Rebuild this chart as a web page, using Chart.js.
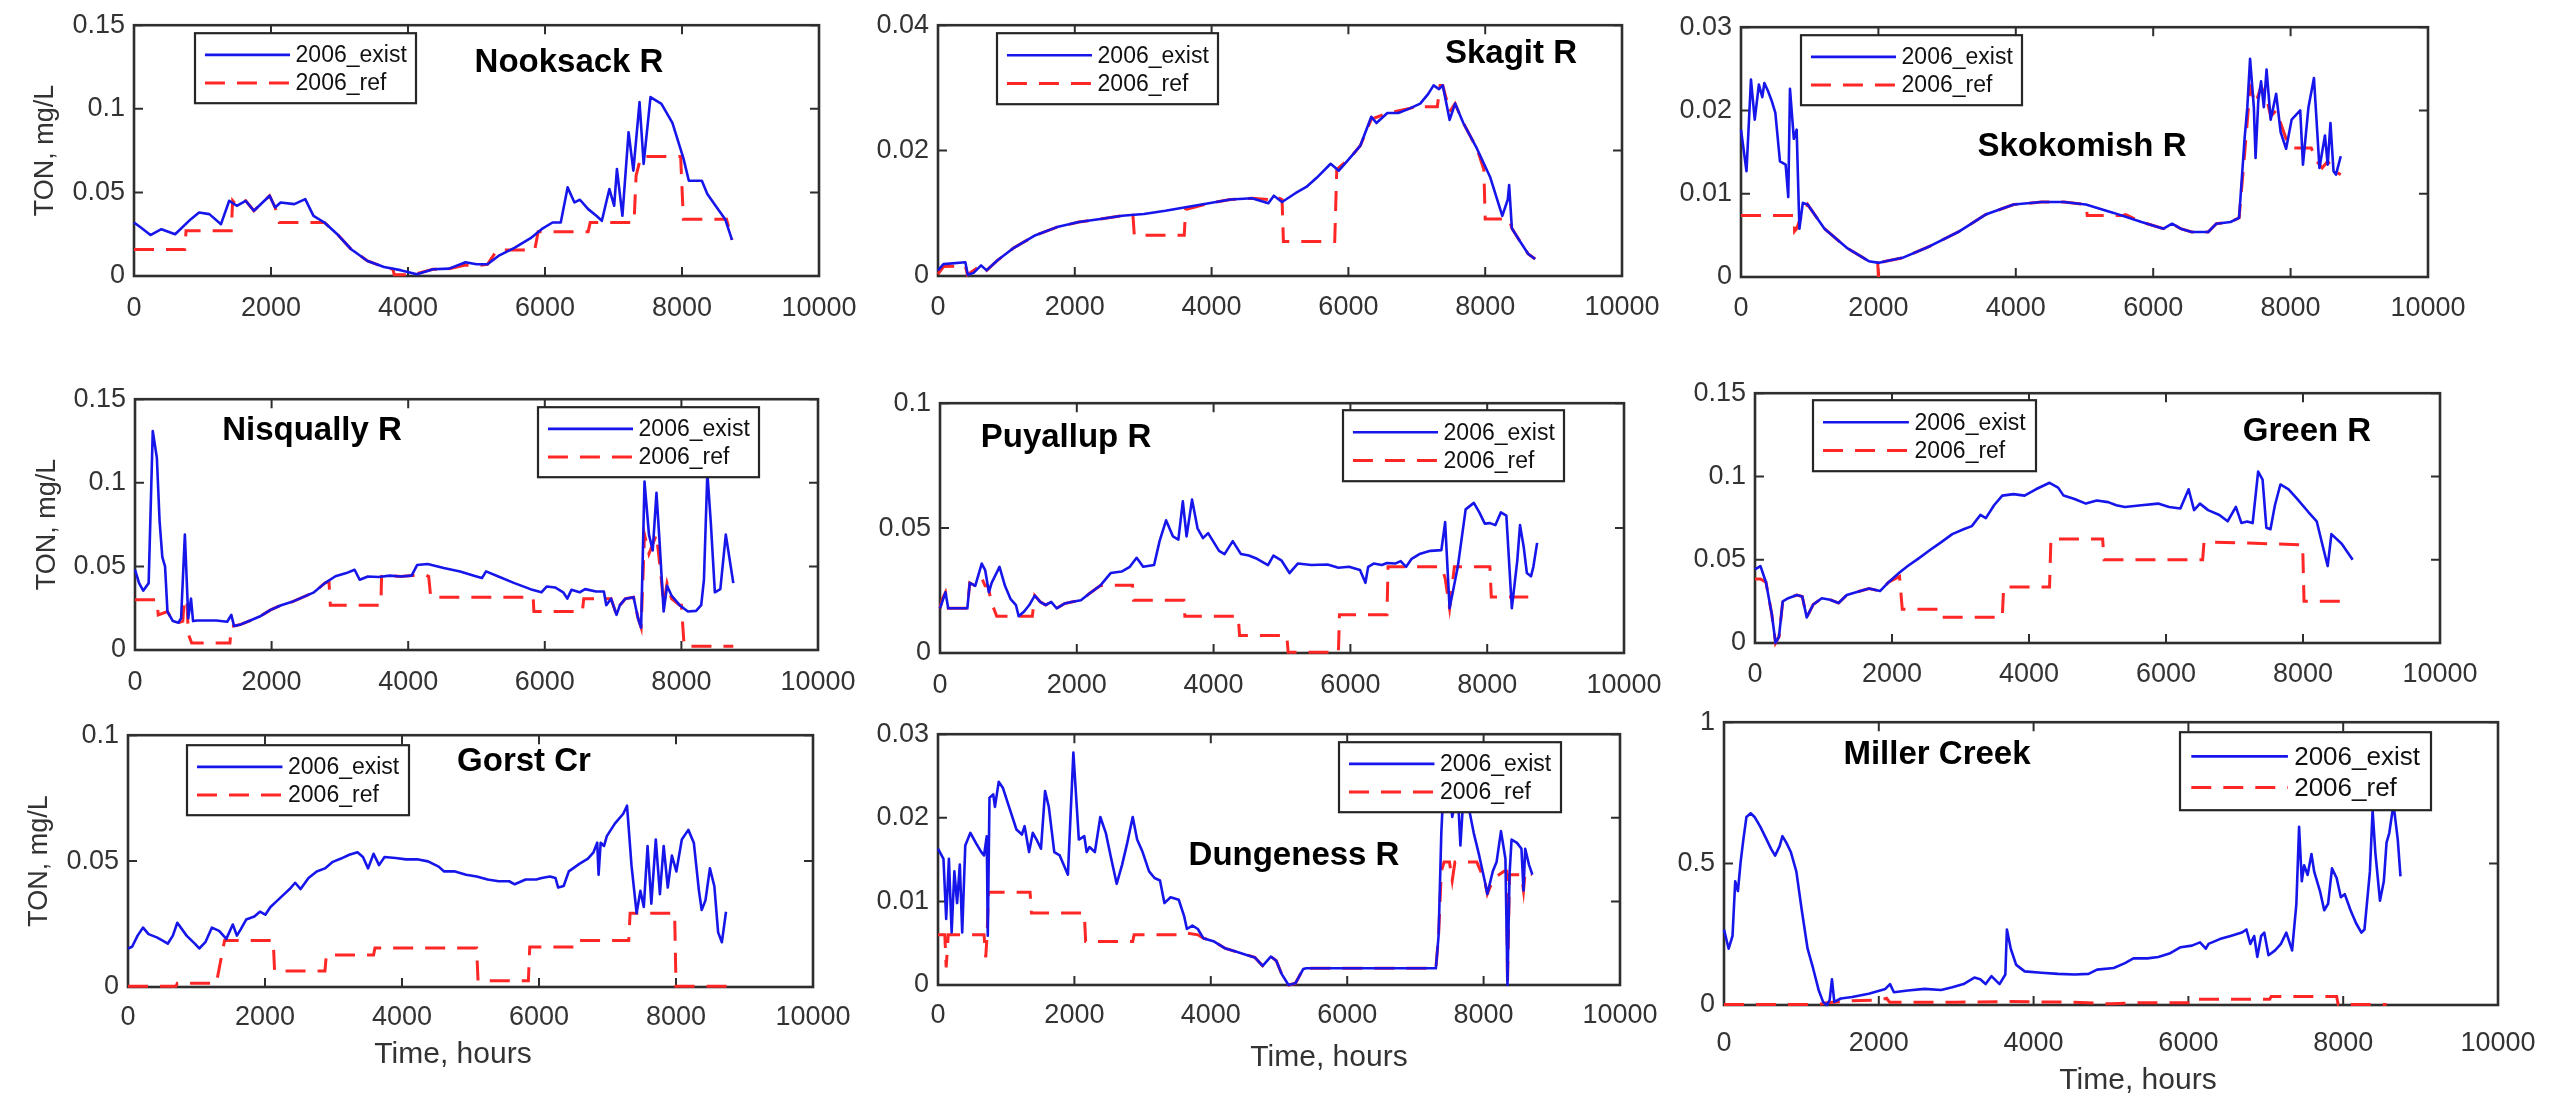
<!DOCTYPE html>
<html><head><meta charset="utf-8">
<script src="https://cdn.jsdelivr.net/npm/chart.js@4.4.1/dist/chart.umd.min.js"></script>
<style>
html,body{margin:0;padding:0;background:#fff;width:2552px;height:1101px;overflow:hidden;position:relative}
canvas{position:absolute}
</style></head><body>
<script>
// ---------- tick labels ----------
const xTicks = [0, 2000, 4000, 6000, 8000, 10000];
const yTicks015 = [0, 0.05, 0.1, 0.15];
const yTicks004 = [0, 0.02, 0.04];
const yTicks003 = [0, 0.01, 0.02, 0.03];
const yTicks010 = [0, 0.05, 0.1];
const yTicks1 = [0, 0.5, 1];
const seriesLabels = ['2006_exist', '2006_ref'];

// ---------- series values [hour, TON mg/L] ----------
const nooksackExist = [[0,.032],[100,.029],[240,.0245],[400,.028],[600,.025],[830,.034],[950,.038],[1100,.037],[1270,.031],[1390,.045],[1500,.042],[1630,.045],[1750,.039],[1980,.048],[2060,.041],[2140,.044],[2340,.043],[2500,.046],[2620,.036],[2780,.032],[2980,.0245],[3170,.016],[3410,.009],[3650,.0054],[3890,.0035],[4130,.001],[4365,.004],[4600,.0044],[4840,.0082],[5000,.007],[5160,.007],[5320,.012],[5560,.017],[5790,.0226],[5950,.028],[6110,.032],[6230,.032],[6330,.053],[6430,.044],[6510,.0456],[6630,.040],[6750,.036],[6830,.033],[6940,.052],[7010,.042],[7050,.064],[7130,.036],[7220,.086],[7290,.063],[7380,.104],[7440,.067],[7540,.107],[7700,.103],[7860,.0916],[8020,.0705],[8100,.057],[8290,.057],[8370,.049],[8490,.042],[8630,.034],[8730,.0216]];
const nooksackRef = [[0,.0158],[740,.0158],[760,.027],[1420,.027],[1440,.045],[1500,.042],[1630,.045],[1750,.039],[1980,.048],[2060,.041],[2120,.032],[2780,.032],[2980,.0245],[3170,.016],[3410,.009],[3650,.0054],[3780,.004],[3800,.0007],[4100,.0007],[4130,.0015],[4365,.004],[4600,.0044],[4840,.0065],[5000,.006],[5160,.007],[5300,.0155],[5850,.0155],[5900,.0265],[6630,.0265],[6660,.032],[7300,.032],[7330,.06],[7400,.0715],[7980,.0715],[8020,.034],[8650,.034],[8730,.0216]];

const skagitExist = [[0,.0009],[80,.0019],[400,.0022],[435,.0002],[520,.0005],[630,.0017],[710,.0009],[870,.0025],[1110,.0045],[1425,.0065],[1740,.0078],[2060,.0086],[2375,.0091],[2690,.0096],[3010,.0099],[3325,.0104],[3640,.011],[3960,.0116],[4275,.0122],[4590,.0124],[4830,.0116],[4910,.0128],[5030,.0118],[5225,.0132],[5385,.0142],[5540,.0157],[5740,.0179],[5860,.0168],[6020,.0188],[6175,.0208],[6335,.0254],[6410,.0244],[6570,.026],[6730,.026],[6890,.0267],[7050,.0275],[7165,.029],[7245,.0304],[7325,.0298],[7380,.0304],[7480,.0249],[7560,.0275],[7680,.0244],[7880,.0203],[8075,.0157],[8250,.0096],[8330,.0122],[8350,.0145],[8390,.0076],[8510,.0055],[8630,.0035],[8730,.0027]];
const skagitRef = [[0,.0003],[80,.0015],[400,.0016],[430,.0002],[630,.0017],[710,.0009],[870,.0025],[1110,.0045],[1425,.0065],[1740,.0078],[2060,.0086],[2375,.0091],[2690,.0096],[2850,.0097],[2870,.0065],[3600,.0065],[3620,.0106],[3960,.0116],[4275,.0122],[4590,.0124],[4830,.0122],[4910,.0128],[5030,.0122],[5050,.0055],[5800,.0055],[5830,.017],[6020,.0188],[6175,.0208],[6335,.025],[6570,.026],[6890,.0267],[7050,.0273],[7100,.027],[7300,.027],[7340,.0304],[7380,.0304],[7480,.0262],[7560,.0275],[7680,.0244],[7880,.0203],[7980,.017],[8000,.0091],[8350,.0091],[8390,.0076],[8510,.0055],[8630,.0035],[8730,.0027]];

const skokomishExist = [[0,.0177],[80,.0127],[145,.0237],[200,.0189],[260,.0231],[310,.0216],[340,.0233],[390,.0224],[445,.0212],[500,.0197],[567,.0139],[650,.0135],[688,.0096],[713,.0226],[769,.0166],[810,.0177],[850,.0058],[900,.0089],[970,.0087],[1215,.0058],[1540,.0035],[1860,.0019],[2010,.0017],[2105,.0019],[2350,.0023],[2750,.0037],[3160,.0054],[3560,.0075],[3970,.0087],[4370,.009],[4700,.009],[5020,.0087],[5425,.0077],[5830,.0066],[6150,.0058],[6275,.0064],[6400,.0058],[6560,.0054],[6800,.0054],[6920,.0064],[7125,.0066],[7250,.0071],[7330,.0166],[7370,.0204],[7410,.0262],[7465,.0204],[7490,.0143],[7530,.0212],[7570,.0235],[7610,.0204],[7650,.0249],[7710,.0189],[7790,.022],[7855,.0174],[7935,.0154],[8015,.0189],[8140,.020],[8180,.0135],[8260,.0204],[8340,.0239],[8420,.0131],[8500,.017],[8540,.0135],[8580,.0185],[8625,.0127],[8660,.0123],[8730,.0145]];
const skokomishRef = [[0,.0074],[770,.0074],[780,.0055],[810,.0058],[850,.0067],[970,.0087],[1215,.0058],[1540,.0035],[1860,.0019],[1990,.0017],[2000,0],[2010,.0017],[2105,.0019],[2350,.0023],[2750,.0037],[3160,.0054],[3560,.0075],[3970,.0087],[4370,.009],[4700,.009],[5020,.0087],[5040,.0074],[5560,.0074],[5600,.0075],[5830,.0066],[6150,.0058],[6275,.0064],[6400,.0058],[6560,.0054],[6800,.0054],[6920,.0064],[7125,.0066],[7250,.0071],[7330,.0147],[7410,.0228],[7490,.0208],[7570,.0229],[7650,.0215],[7710,.0193],[7790,.020],[7935,.0166],[8015,.0155],[8300,.0155],[8380,.0139],[8460,.0131],[8540,.0139],[8625,.0128],[8730,.0123]];

const nisquallyExist = [[0,.048],[60,.040],[120,.0355],[200,.040],[260,.131],[320,.115],[360,.077],[400,.0556],[440,.050],[475,.023],[555,.0173],[635,.0163],[675,.019],[730,.069],[780,.019],[820,.0307],[850,.0173],[910,.0176],[1190,.0176],[1350,.0169],[1410,.021],[1450,.0144],[1550,.0153],[1670,.0173],[1825,.020],[1985,.024],[2140,.0268],[2300,.0288],[2460,.0316],[2620,.0345],[2780,.040],[2935,.0441],[3095,.046],[3215,.048],[3290,.042],[3410,.044],[3570,.0437],[3730,.0445],[3890,.044],[4050,.0445],[4130,.0508],[4285,.0514],[4520,.049],[4760,.047],[5000,.044],[5080,.043],[5140,.047],[5320,.044],[5555,.040],[5790,.0364],[5950,.0345],[6030,.038],[6150,.0374],[6270,.0345],[6330,.0307],[6390,.036],[6510,.0345],[6590,.0364],[6750,.035],[6865,.035],[6900,.0268],[6970,.0307],[7050,.021],[7100,.0268],[7180,.0307],[7300,.0316],[7365,.019],[7410,.0134],[7460,.1007],[7525,.069],[7580,.0595],[7635,.094],[7680,.065],[7740,.023],[7790,.0384],[7855,.0326],[7975,.0268],[8095,.023],[8215,.0234],[8290,.0268],[8330,.042],[8380,.106],[8430,.0767],[8490,.0345],[8570,.0364],[8650,.069],[8730,.048],[8760,.040]];
const nisquallyRef = [[0,.030],[320,.030],[340,.021],[475,.023],[555,.0173],[635,.0163],[700,.0173],[720,.030],[760,.030],[780,.0096],[830,.0042],[1390,.0042],[1410,.0144],[1450,.0144],[1550,.0153],[1670,.0173],[1825,.020],[1985,.024],[2140,.0268],[2300,.0288],[2460,.0316],[2620,.0345],[2780,.040],[2840,.041],[2860,.0268],[3600,.0268],[3610,.044],[3730,.0445],[3890,.044],[4050,.0445],[4250,.045],[4300,.044],[4330,.0316],[5830,.0316],[5840,.023],[6550,.023],[6570,.0307],[6900,.0307],[6970,.0307],[7050,.021],[7100,.0268],[7180,.0307],[7300,.0316],[7365,.019],[7410,.0134],[7460,.069],[7525,.0575],[7635,.069],[7700,.045],[7740,.0268],[7790,.040],[7855,.0307],[7975,.0268],[8000,.0268],[8040,.0023],[8760,.0023]];

const puyallupExist = [[0,.0179],[80,.0243],[120,.0179],[240,.0179],[400,.0179],[435,.0281],[515,.0269],[610,.0358],[660,.0332],[715,.0243],[755,.0281],[870,.0345],[950,.0269],[1030,.0217],[1110,.0192],[1150,.0147],[1230,.0166],[1305,.0192],[1385,.023],[1465,.0205],[1545,.0192],[1625,.0205],[1705,.0179],[1820,.0198],[1940,.0205],[2060,.0211],[2180,.0237],[2340,.0269],[2495,.032],[2655,.0326],[2775,.0345],[2875,.0381],[2970,.0345],[3130,.0352],[3210,.0448],[3305,.0531],[3405,.0467],[3485,.0454],[3550,.0607],[3605,.0467],[3685,.0614],[3765,.0499],[3845,.046],[3920,.048],[4080,.0409],[4160,.0396],[4280,.0448],[4400,.0396],[4515,.039],[4635,.0377],[4795,.0352],[4875,.039],[4990,.0371],[5110,.032],[5230,.0358],[5430,.0352],[5665,.0354],[5825,.0341],[5980,.0345],[6140,.0332],[6220,.0281],[6260,.0345],[6340,.0358],[6460,.0352],[6535,.036],[6655,.0358],[6735,.0368],[6815,.0345],[6895,.0377],[7010,.0396],[7170,.0409],[7330,.0412],[7385,.0524],[7450,.0179],[7570,.0345],[7685,.0575],[7805,.0601],[7885,.0563],[7965,.0518],[8040,.052],[8120,.0512],[8200,.0563],[8280,.055],[8360,.0179],[8440,.0371],[8480,.0512],[8535,.0422],[8580,.032],[8640,.0307],[8675,.0345],[8730,.0441]];
const puyallupRef = [[0,.0179],[40,.022],[80,.0243],[120,.0179],[400,.0179],[435,.0281],[515,.0269],[610,.030],[660,.0269],[700,.0269],[755,.020],[830,.0147],[1350,.0147],[1385,.023],[1465,.0205],[1545,.0192],[1625,.0205],[1705,.0179],[1820,.0198],[1940,.0205],[2060,.0211],[2180,.0237],[2340,.0269],[2455,.0271],[2815,.0271],[2830,.0211],[3565,.0211],[3580,.0147],[4360,.0147],[4380,.007],[5070,.007],[5090,.0003],[5825,.0003],[5840,.0153],[6535,.0153],[6550,.0345],[7330,.0345],[7385,.030],[7450,.0179],[7520,.0345],[8040,.0345],[8060,.0224],[8600,.0224]];

const greenExist = [[0,.0442],[80,.0462],[160,.0365],[245,.0173],[300,0],[350,.0038],[405,.025],[485,.0269],[610,.0288],[690,.0279],[755,.0154],[850,.0231],[975,.0269],[1095,.026],[1220,.024],[1340,.0288],[1500,.0308],[1665,.0327],[1825,.0312],[1950,.0365],[2110,.0423],[2230,.0462],[2395,.051],[2555,.0558],[2720,.0606],[2880,.0654],[3045,.0683],[3165,.0702],[3290,.0769],[3370,.075],[3490,.0827],[3610,.0885],[3775,.0894],[3935,.0885],[4100,.0923],[4300,.0962],[4425,.0933],[4505,.0885],[4665,.0865],[4830,.0837],[4990,.0856],[5155,.0846],[5275,.0827],[5400,.0817],[5640,.0827],[5885,.0837],[6045,.0817],[6210,.0808],[6330,.0923],[6410,.0798],[6495,.0837],[6615,.0798],[6780,.0769],[6900,.0731],[7020,.0817],[7100,.0721],[7185,.073],[7265,.072],[7345,.1029],[7410,.0981],[7465,.0692],[7525,.0683],[7590,.0827],[7670,.0952],[7790,.0923],[7915,.0865],[8075,.0788],[8200,.0731],[8280,.0596],[8360,.0462],[8415,.0654],[8565,.0596],[8725,.050]];
const greenRef = [[0,.0385],[80,.0385],[160,.0365],[245,.0173],[300,0],[350,.0038],[405,.025],[485,.0269],[610,.0288],[690,.0279],[755,.0154],[850,.0231],[975,.0269],[1095,.026],[1220,.024],[1340,.0288],[1500,.0308],[1665,.0327],[1825,.0312],[1950,.0365],[2110,.040],[2150,.0202],[2720,.0202],[2740,.0154],[3610,.0154],[3630,.0337],[4300,.0337],[4320,.0625],[5075,.0625],[5095,.050],[6535,.050],[6555,.0606],[7200,.060],[7995,.059],[8015,.025],[8605,.025]];

const gorstExist = [[0,.0153],[60,.016],[140,.0204],[220,.0236],[300,.021],[420,.0197],[500,.0185],[580,.0172],[655,.0204],[720,.0255],[855,.0204],[975,.0172],[1040,.0153],[1130,.0178],[1225,.0236],[1330,.0223],[1435,.0191],[1530,.0248],[1590,.0204],[1645,.0229],[1725,.0268],[1845,.028],[1925,.0299],[2005,.0287],[2080,.0318],[2160,.0338],[2280,.0369],[2360,.0389],[2440,.0414],[2520,.0389],[2635,.0433],[2755,.0459],[2875,.0471],[2990,.0497],[3110,.051],[3230,.0525],[3350,.0535],[3430,.0516],[3505,.0471],[3585,.0529],[3665,.0484],[3745,.0516],[3905,.0512],[4060,.0507],[4220,.0507],[4380,.0499],[4535,.0478],[4615,.0459],[4775,.0459],[4935,.0446],[5090,.0439],[5250,.0427],[5410,.042],[5565,.042],[5645,.0408],[5805,.0427],[5960,.0427],[6040,.0433],[6160,.0439],[6240,.0433],[6280,.0395],[6360,.0401],[6435,.0459],[6595,.049],[6715,.051],[6795,.0535],[6850,.0573],[6870,.0446],[6900,.0573],[6950,.056],[6990,.0599],[7110,.065],[7230,.0688],[7285,.072],[7350,.0484],[7425,.0293],[7480,.0382],[7530,.0318],[7585,.056],[7640,.0331],[7705,.0586],[7765,.0369],[7820,.056],[7880,.0395],[7940,.0522],[8005,.0459],[8085,.0586],[8180,.0624],[8260,.0573],[8335,.0382],[8375,.0306],[8430,.0344],[8495,.0471],[8560,.040],[8615,.0217],[8670,.0178],[8730,.0299]];
const gorstRef = [[0,.0003],[700,.0003],[720,.0015],[1290,.0015],[1410,.0185],[2120,.0185],[2140,.0064],[2875,.0064],[2895,.0127],[3585,.0127],[3605,.0155],[5090,.0155],[5110,.0025],[5845,.0025],[5865,.0159],[6555,.0159],[6575,.0185],[7310,.0185],[7330,.0293],[7980,.0293],[8000,.0003],[8760,.0003]];

const dungenessExist = [[0,.0163],[80,.0151],[120,.0079],[160,.0151],[200,.0063],[240,.0136],[280,.0098],[320,.0144],[355,.0063],[400,.0167],[475,.0182],[555,.017],[635,.0159],[675,.0155],[715,.0178],[730,.0059],[755,.0224],[810,.0228],[835,.0213],[890,.0243],[950,.0236],[1030,.0216],[1150,.0186],[1230,.018],[1270,.019],[1335,.0159],[1390,.0182],[1445,.0174],[1510,.0163],[1570,.0232],[1625,.0213],[1705,.0159],[1785,.0155],[1905,.0132],[1985,.0278],[2065,.0174],[2145,.0178],[2180,.0159],[2220,.0165],[2300,.0159],[2380,.0201],[2460,.0182],[2540,.0151],[2620,.0121],[2700,.0144],[2775,.017],[2855,.0201],[2920,.0174],[3000,.0159],[3095,.0136],[3175,.0128],[3255,.0125],[3320,.0098],[3410,.0105],[3530,.0102],[3610,.0082],[3650,.0067],[3730,.0071],[3810,.0067],[3890,.0056],[4050,.0052],[4205,.0044],[4365,.004],[4525,.0036],[4645,.0033],[4760,.0023],[4880,.0034],[4960,.0029],[5040,.0013],[5140,0],[5240,.0002],[5355,.0019],[5400,.002],[7300,.002],[7340,.0059],[7380,.0182],[7420,.0251],[7500,.0232],[7540,.0201],[7620,.0232],[7660,.0167],[7700,.022],[7780,.0213],[7855,.0182],[7935,.0155],[8015,.0125],[8055,.0109],[8135,.0136],[8190,.0147],[8255,.0184],[8320,.0151],[8350,0],[8380,.0132],[8410,.0174],[8490,.017],[8555,.0163],[8585,.0113],[8610,.0163],[8665,.0144],[8715,.0132]];
const dungenessRef = [[0,.006],[100,.006],[120,.0021],[150,.006],[675,.006],[700,.0033],[720,.006],[740,.0111],[1350,.0111],[1370,.0086],[2145,.0086],[2165,.0052],[2855,.0052],[2875,.006],[3610,.006],[3650,.0062],[3810,.006],[3890,.0056],[4050,.0052],[4205,.0044],[4365,.004],[4525,.0036],[4645,.0033],[4760,.0023],[4880,.0034],[4960,.0029],[5040,.0013],[5140,0],[5240,.0002],[5355,.0019],[5400,.002],[7300,.002],[7340,.0059],[7380,.0136],[7420,.0147],[7500,.0147],[7540,.0125],[7580,.0147],[7900,.0147],[8015,.0125],[8055,.0109],[8135,.0125],[8190,.013],[8300,.0136],[8340,.0136],[8350,0],[8380,.0132],[8555,.0132],[8585,.0113],[8610,.0136],[8715,.0132]];

const millerExist = [[0,.267],[60,.199],[110,.244],[145,.4375],[180,.403],[215,.506],[250,.585],[290,.665],[345,.678],[395,.665],[470,.63],[540,.591],[610,.551],[660,.528],[720,.5625],[755,.597],[805,.574],[865,.54],[935,.4716],[1005,.335],[1080,.199],[1150,.131],[1225,.051],[1280,.011],[1330,0],[1365,.017],[1395,.091],[1425,.011],[1510,.023],[1655,.028],[1870,.04],[2085,.057],[2145,.074],[2195,.045],[2375,.051],[2590,.057],[2805,.053],[2950,.0625],[3095,.074],[3235,.097],[3310,.091],[3380,.074],[3455,.102],[3560,.074],[3635,.108],[3655,.267],[3705,.199],[3775,.142],[3885,.119],[4100,.114],[4315,.11],[4530,.108],[4710,.11],[4820,.125],[5035,.131],[5180,.148],[5290,.165],[5470,.165],[5610,.17],[5755,.182],[5900,.2045],[6045,.21],[6150,.2216],[6225,.199],[6260,.216],[6405,.233],[6545,.244],[6690,.256],[6750,.267],[6800,.216],[6850,.244],[6890,.17],[6940,.244],[6980,.256],[7035,.176],[7120,.193],[7195,.216],[7265,.256],[7340,.193],[7395,.358],[7430,.63],[7465,.4375],[7495,.494],[7540,.46],[7590,.534],[7625,.4716],[7700,.403],[7755,.335],[7805,.358],[7855,.483],[7915,.449],[7970,.381],[8020,.392],[8095,.335],[8165,.29],[8235,.256],[8275,.267],[8345,.4716],[8380,.6875],[8415,.54],[8475,.369],[8525,.4375],[8560,.574],[8595,.608],[8650,.71],[8705,.585],[8740,.4545]];
const millerRef = [[0,.002],[1225,.002],[1330,.008],[1510,.012],[1655,.015],[2015,.017],[2100,.024],[2140,.010],[3000,.010],[3700,.012],[4500,.010],[5000,.004],[5300,.008],[6045,.008],[6060,.020],[7050,.020],[7070,.030],[7915,.030],[7935,.002],[8560,.002]];

// ---------- panel layout ----------
const FONT = "'Liberation Sans', Arial, Helvetica, sans-serif";
const BLUE = 'rgb(22,22,235)';
const RED = 'rgb(255,38,38)';
const AXC = '#2e2e2e';
const YW = 134, TOPPAD = 15, RIGHTPAD = 60, XH = 110;

const panels = [
  {name:'Nooksack R', exist:nooksackExist, ref:nooksackRef, yTicks:yTicks015, L:134,R:819,T:15,B:276, yTitleCx:45, xTickPad:16, legend:{x:61,y:8,w:221,h:70,font:23}, label:[569,63]},
  {name:'Skagit R', exist:skagitExist, ref:skagitRef, yTicks:yTicks004, L:938,R:1622,T:15,B:276, xTickPad:15, legend:{x:59,y:8,w:221,h:71,font:23}, label:[1511,54]},
  {name:'Skokomish R', exist:skokomishExist, ref:skokomishRef, yTicks:yTicks003, L:1741,R:2428,T:17,B:277, xTickPad:15, legend:{x:60,y:8,w:221,h:70,font:23}, label:[2082,147]},
  {name:'Nisqually R', exist:nisquallyExist, ref:nisquallyRef, yTicks:yTicks015, L:135,R:818,T:389,B:650, yTitleCx:47, xTickPad:16, legend:{x:403,y:8,w:221,h:70,font:23}, label:[312,431]},
  {name:'Puyallup R', exist:puyallupExist, ref:puyallupRef, yTicks:yTicks010, L:940,R:1624,T:393,B:653, xTickPad:16, legend:{x:403,y:7,w:221,h:71,font:23}, label:[1066,438]},
  {name:'Green R', exist:greenExist, ref:greenRef, yTicks:yTicks015, L:1755,R:2440,T:383,B:643, xTickPad:15, legend:{x:58,y:7,w:223,h:71,font:23}, label:[2307,432]},
  {name:'Gorst Cr', exist:gorstExist, ref:gorstRef, yTicks:yTicks010, L:128,R:813,T:725,B:987, yTitleCx:39, xTitle:[453,1055], xTickPad:14, legend:{x:59,y:10,w:222,h:70,font:23}, label:[524,762]},
  {name:'Dungeness R', exist:dungenessExist, ref:dungenessRef, yTicks:yTicks003, L:938,R:1620,T:724,B:985, xTitle:[1329,1058], xTickPad:14, legend:{x:401,y:8,w:222,h:70,font:23}, label:[1294,856]},
  {name:'Miller Creek', exist:millerExist, ref:millerRef, yTicks:yTicks1, L:1724,R:2498,T:712,B:1005, xTitle:[2138,1081], xTickPad:22, legend:{x:456,y:10,w:251,h:78,font:26}, label:[1937,755]}
];

const toXY = arr => arr.map(p => ({x: p[0], y: p[1]}));
const fmt = v => String(+Number(v).toFixed(4));

panels.forEach((p, i) => {
  const cLeft = p.L - YW, cTop = p.T - TOPPAD;
  const W = (p.R - p.L) + YW + RIGHTPAD, H = (p.B - p.T) + TOPPAD + XH;
  const cv = document.createElement('canvas');
  cv.width = W; cv.height = H;
  cv.style.left = cLeft + 'px'; cv.style.top = cTop + 'px';
  cv.style.width = W + 'px'; cv.style.height = H + 'px';
  document.body.appendChild(cv);

  const framePlugin = {
    id: 'frame' + i,
    beforeDatasetsDraw(chart) {
      const {ctx, chartArea: a, scales: {x, y}} = chart;
      ctx.save();
      ctx.strokeStyle = AXC; ctx.lineWidth = 2;
      const tl = 9;
      ctx.beginPath();
      x.ticks.forEach(t => { const px = x.getPixelForValue(t.value);
        ctx.moveTo(px, a.bottom); ctx.lineTo(px, a.bottom - tl);
        ctx.moveTo(px, a.top); ctx.lineTo(px, a.top + tl); });
      y.ticks.forEach(t => { const py = y.getPixelForValue(t.value);
        ctx.moveTo(a.left, py); ctx.lineTo(a.left + tl, py);
        ctx.moveTo(a.right, py); ctx.lineTo(a.right - tl, py); });
      ctx.stroke();
      ctx.lineWidth = 2.6;
      ctx.strokeRect(a.left, a.top, a.right - a.left, a.bottom - a.top);
      ctx.restore();
    },
    afterDatasetsDraw(chart) {
      const {ctx, chartArea: a} = chart;
      ctx.save();
      // legend
      const lg = p.legend;
      const bx = a.left + lg.x, by = a.top + lg.y;
      ctx.fillStyle = '#fff'; ctx.fillRect(bx, by, lg.w, lg.h);
      ctx.strokeStyle = '#262626'; ctx.lineWidth = 2.2; ctx.strokeRect(bx, by, lg.w, lg.h);
      chart.data.datasets.forEach((ds, k) => {
        const cy = by + lg.h * (k === 0 ? 0.31 : 0.71);
        ctx.beginPath();
        ctx.strokeStyle = ds.borderColor; ctx.lineWidth = ds.borderWidth;
        ctx.setLineDash(ds.borderDash || []);
        ctx.moveTo(bx + lg.w * 0.045, cy); ctx.lineTo(bx + lg.w * 0.43, cy);
        ctx.stroke();
        ctx.setLineDash([]);
        ctx.fillStyle = '#111';
        ctx.font = lg.font + 'px ' + FONT;
        ctx.textAlign = 'left'; ctx.textBaseline = 'middle';
        ctx.fillText(ds.label, bx + lg.w * 0.455, cy + 1);
      });
      // panel name
      ctx.fillStyle = '#000';
      ctx.font = 'bold 33px ' + FONT;
      ctx.textAlign = 'center'; ctx.textBaseline = 'middle';
      ctx.fillText(p.name, p.label[0] - cLeft, p.label[1] - cTop);
      // x axis title
      if (p.xTitle) {
        ctx.fillStyle = '#333';
        ctx.font = '30px ' + FONT;
        ctx.fillText('Time, hours', p.xTitle[0] - cLeft, p.xTitle[1] - cTop);
      }
      ctx.restore();
    }
  };

  new Chart(cv, {
    type: 'line',
    data: {
      datasets: [
        {label: seriesLabels[0], data: toXY(p.exist), borderColor: BLUE, borderWidth: 2.6, pointRadius: 0, tension: 0, clip: 6, borderJoinStyle: 'round'},
        {label: seriesLabels[1], data: toXY(p.ref), borderColor: RED, borderWidth: 3, borderDash: [20, 12], pointRadius: 0, tension: 0, clip: 6}
      ]
    },
    options: {
      responsive: false, animation: false, devicePixelRatio: 1,
      layout: {padding: {top: TOPPAD, right: RIGHTPAD, left: 0, bottom: 0}},
      plugins: {legend: {display: false}, tooltip: {enabled: false}, title: {display: false}},
      scales: {
        x: {
          type: 'linear', min: 0, max: 10000,
          afterBuildTicks: s => { s.ticks = xTicks.map(v => ({value: v})); },
          afterFit: s => { s.height = XH; },
          grid: {display: false, drawTicks: false},
          border: {display: false},
          ticks: {autoSkip: false, maxRotation: 0, padding: p.xTickPad, color: '#333', font: {family: FONT, size: 27}, callback: v => fmt(v)}
        },
        y: {
          type: 'linear', min: 0, max: p.yTicks[p.yTicks.length - 1],
          afterBuildTicks: s => { s.ticks = p.yTicks.map(v => ({value: v})); },
          afterFit: s => { s.width = YW; },
          grid: {display: false, drawTicks: false},
          border: {display: false},
          ticks: {padding: 9, color: '#333', font: {family: FONT, size: 27}, callback: v => fmt(v)},
          title: {display: !!p.yTitleCx, text: 'TON, mg/L', color: '#333', font: {family: FONT, size: 27},
                  padding: {top: (p.yTitleCx || 0) - cLeft - 16, bottom: 0}}
        }
      }
    },
    plugins: [framePlugin]
  });
});
</script>
</body></html>
